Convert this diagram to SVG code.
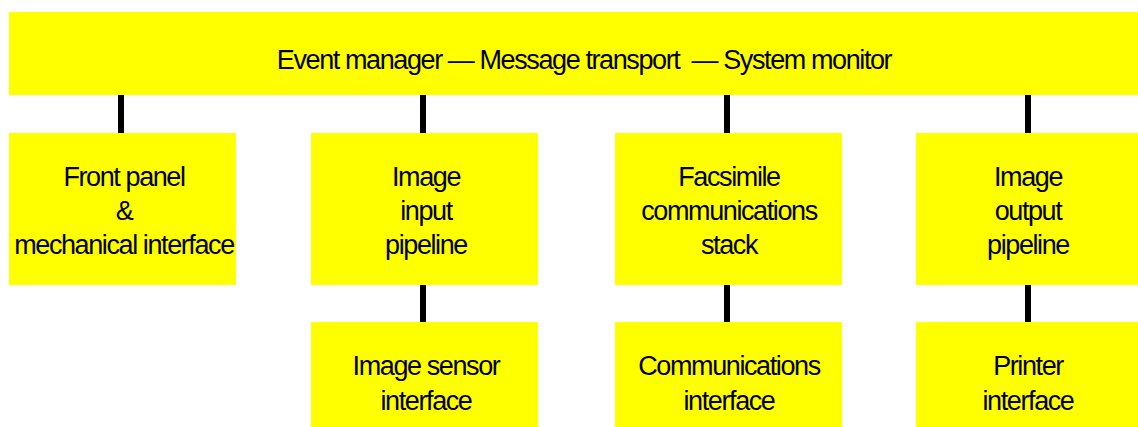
<svg xmlns="http://www.w3.org/2000/svg" width="1138" height="427" viewBox="0 0 1138 427">
<style>
.box{fill:#ffff00;stroke:none}
.t{font-family:"Liberation Sans",Arial,sans-serif;font-size:27px;letter-spacing:-1.4px;fill:#000;text-anchor:middle}
.c{stroke:#000;stroke-width:6;fill:none}
</style>
<rect width="1138" height="427" fill="#fff"/>
<g id="connectors">
<line class="c" x1="121" y1="95" x2="121" y2="133"/>
<line class="c" x1="423" y1="95" x2="423" y2="133"/>
<line class="c" x1="727" y1="95" x2="727" y2="133"/>
<line class="c" x1="1028" y1="95" x2="1028" y2="133"/>
<line class="c" x1="423" y1="285" x2="423" y2="322"/>
<line class="c" x1="727" y1="285" x2="727" y2="322"/>
<line class="c" x1="1028" y1="285" x2="1028" y2="322"/>
</g>
<g id="top">
<rect class="box" x="9" y="12" width="1129" height="83"/>
<text class="t" x="584" y="69" xml:space="preserve">Event manager — Message transport  — System monitor</text>
</g>
<g id="front-panel">
<rect class="box" x="9" y="133" width="227" height="152"/>
<text class="t" x="124" y="186">Front panel</text>
<text class="t" x="124" y="220">&amp;</text>
<text class="t" x="124" y="254">mechanical interface</text>
</g>
<g id="image-input">
<rect class="box" x="311" y="133" width="227" height="152"/>
<text class="t" x="426" y="186">Image</text>
<text class="t" x="426" y="220">input</text>
<text class="t" x="426" y="254">pipeline</text>
</g>
<g id="facsimile">
<rect class="box" x="615" y="133" width="227" height="152"/>
<text class="t" x="729" y="186">Facsimile</text>
<text class="t" x="729" y="220">communications</text>
<text class="t" x="729" y="254">stack</text>
</g>
<g id="image-output">
<rect class="box" x="916" y="133" width="222" height="152"/>
<text class="t" x="1028" y="186">Image</text>
<text class="t" x="1028" y="220">output</text>
<text class="t" x="1028" y="254">pipeline</text>
</g>
<g id="image-sensor">
<rect class="box" x="311" y="322" width="227" height="105"/>
<text class="t" x="426" y="375">Image sensor</text>
<text class="t" x="426" y="410">interface</text>
</g>
<g id="comm-interface">
<rect class="box" x="615" y="322" width="227" height="105"/>
<text class="t" x="729" y="375">Communications</text>
<text class="t" x="729" y="410">interface</text>
</g>
<g id="printer">
<rect class="box" x="916" y="322" width="222" height="105"/>
<text class="t" x="1028" y="375">Printer</text>
<text class="t" x="1028" y="410">interface</text>
</g>
</svg>
